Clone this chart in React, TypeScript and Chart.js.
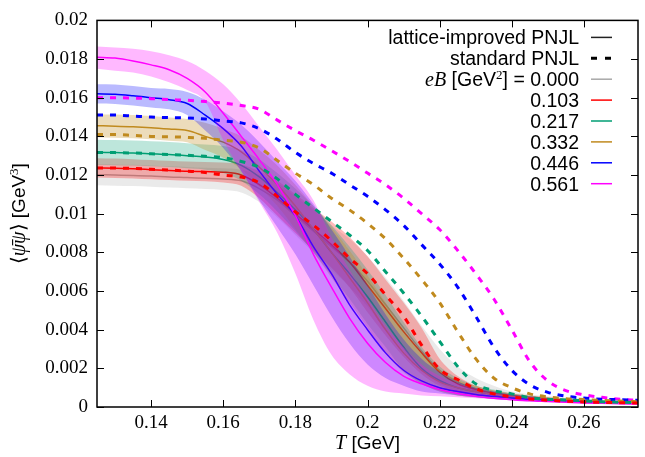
import React, { useEffect, useRef } from "react";
import { Chart, registerables } from "chart.js";
Chart.register(...registerables);

// Temperature grid [GeV]
const T = [0.125, 0.13, 0.135, 0.14, 0.145, 0.15, 0.155, 0.16, 0.165, 0.17, 0.175, 0.18, 0.185, 0.19, 0.195, 0.2, 0.205, 0.21, 0.215, 0.22, 0.225, 0.23, 0.235, 0.24, 0.245, 0.25, 0.255, 0.26, 0.265, 0.27, 0.275];

// eB values [GeV^2]
const eBLabels = ["0.000", "0.103", "0.217", "0.332", "0.446", "0.561"];

// lattice-improved PNJL (solid) with uncertainty bands
const lat000 = [0.01202, 0.012, 0.01198, 0.01195, 0.0119, 0.01187, 0.01183, 0.0118, 0.0117, 0.0113, 0.0107, 0.0099, 0.0091, 0.0083, 0.0075, 0.0065, 0.0053, 0.0041, 0.0029, 0.0019, 0.0013, 0.00095, 0.00075, 0.0006, 0.0005, 0.00042, 0.00036, 0.00032, 0.00028, 0.00025, 0.00023];
const lat000Hi = [0.01257, 0.01255, 0.01253, 0.0125, 0.01245, 0.01242, 0.01238, 0.01235, 0.01228, 0.012, 0.0116, 0.0109, 0.0102, 0.0094, 0.0087, 0.0078, 0.0067, 0.0055, 0.0042, 0.003, 0.0021, 0.0015, 0.0011, 0.0008, 0.00065, 0.00055, 0.00047, 0.0004, 0.00035, 0.00031, 0.00028];
const lat000Lo = [0.01147, 0.01145, 0.01143, 0.0114, 0.01135, 0.01132, 0.01128, 0.01123, 0.0111, 0.0106, 0.0098, 0.0089, 0.008, 0.0071, 0.0062, 0.0052, 0.004, 0.0029, 0.0019, 0.0012, 0.0008, 0.0006, 0.0005, 0.00042, 0.00036, 0.0003, 0.00026, 0.00023, 0.0002, 0.00018, 0.00017];

const lat103 = [0.01237, 0.01235, 0.01232, 0.01228, 0.01224, 0.0122, 0.01218, 0.01215, 0.012, 0.0115, 0.0108, 0.01, 0.0092, 0.0084, 0.0075, 0.0063, 0.0051, 0.0039, 0.0028, 0.0018, 0.0012, 0.0009, 0.0007, 0.00058, 0.00048, 0.0004, 0.00034, 0.0003, 0.00026, 0.00023, 0.00021];
const lat103Hi = [0.01287, 0.01285, 0.01282, 0.01278, 0.01274, 0.0127, 0.01268, 0.01265, 0.01255, 0.0122, 0.0117, 0.011, 0.0103, 0.0096, 0.0088, 0.0078, 0.0066, 0.0054, 0.0041, 0.0025, 0.0016, 0.0011, 0.00085, 0.0007, 0.0006, 0.0005, 0.00042, 0.00036, 0.00031, 0.00028, 0.00025];
const lat103Lo = [0.01187, 0.01185, 0.01182, 0.01178, 0.01174, 0.0117, 0.01168, 0.01162, 0.01145, 0.0108, 0.0099, 0.009, 0.0081, 0.0072, 0.0062, 0.0049, 0.0037, 0.0026, 0.0017, 0.0011, 0.00075, 0.0006, 0.0005, 0.00042, 0.00036, 0.0003, 0.00026, 0.00023, 0.0002, 0.00018, 0.00017];

const lat217 = [0.01318, 0.01316, 0.01314, 0.0131, 0.01306, 0.013, 0.01293, 0.0128, 0.0125, 0.0119, 0.0111, 0.0102, 0.0092, 0.008, 0.0069, 0.0057, 0.0044, 0.0031, 0.002, 0.00137, 0.001, 0.0008, 0.00065, 0.00052, 0.00043, 0.00037, 0.00032, 0.00028, 0.00025, 0.00022, 0.0002];
const lat217Hi = [0.01383, 0.01381, 0.01379, 0.01375, 0.01371, 0.01365, 0.01358, 0.0135, 0.0133, 0.0128, 0.0121, 0.0113, 0.0104, 0.0094, 0.0083, 0.0071, 0.0058, 0.0044, 0.0031, 0.0021, 0.0015, 0.0011, 0.0009, 0.0007, 0.00057, 0.00048, 0.00041, 0.00036, 0.00032, 0.00028, 0.00025];
const lat217Lo = [0.01253, 0.01251, 0.01249, 0.01245, 0.01241, 0.01235, 0.01228, 0.0121, 0.0117, 0.011, 0.0101, 0.0091, 0.008, 0.0068, 0.0056, 0.0043, 0.0031, 0.0019, 0.0012, 0.0008, 0.0006, 0.0005, 0.00042, 0.00035, 0.0003, 0.00026, 0.00023, 0.0002, 0.00018, 0.00016, 0.00015];

const lat332 = [0.01455, 0.01453, 0.0145, 0.01445, 0.01438, 0.0143, 0.014, 0.0137, 0.0132, 0.0124, 0.0115, 0.0104, 0.0092, 0.008, 0.0067, 0.0054, 0.004, 0.0028, 0.0019, 0.0013, 0.001, 0.0008, 0.00065, 0.00055, 0.00046, 0.0004, 0.00035, 0.0003, 0.00027, 0.00024, 0.00022];
const lat332Hi = [0.01515, 0.01513, 0.0151, 0.01505, 0.01498, 0.0149, 0.0147, 0.0144, 0.014, 0.0133, 0.0125, 0.0115, 0.0104, 0.0093, 0.0081, 0.0068, 0.0054, 0.004, 0.0028, 0.0019, 0.0014, 0.0011, 0.00085, 0.0007, 0.00058, 0.0005, 0.00043, 0.00037, 0.00033, 0.0003, 0.00027];
const lat332Lo = [0.01395, 0.01393, 0.0139, 0.01385, 0.01378, 0.0137, 0.0133, 0.0129, 0.0123, 0.0114, 0.0104, 0.0092, 0.008, 0.0067, 0.0054, 0.0041, 0.0028, 0.0018, 0.0012, 0.0008, 0.0006, 0.0005, 0.00043, 0.00037, 0.00032, 0.00028, 0.00025, 0.00022, 0.0002, 0.00018, 0.00016];

const lat446 = [0.0162, 0.01618, 0.0161, 0.016, 0.0159, 0.0157, 0.0151, 0.0144, 0.0135, 0.0122, 0.011, 0.0099, 0.0083, 0.0069, 0.0053, 0.004, 0.0028, 0.0019, 0.00135, 0.001, 0.0008, 0.00065, 0.00055, 0.00047, 0.0004, 0.00035, 0.00031, 0.00028, 0.00025, 0.00023, 0.00021];
const lat446Hi = [0.0167, 0.01668, 0.0166, 0.0165, 0.01645, 0.0163, 0.0159, 0.0153, 0.0146, 0.0137, 0.0127, 0.0117, 0.0105, 0.0092, 0.0078, 0.0063, 0.0048, 0.0035, 0.0025, 0.0018, 0.0013, 0.001, 0.0008, 0.00065, 0.00055, 0.00047, 0.0004, 0.00035, 0.00031, 0.00028, 0.00025];
const lat446Lo = [0.0157, 0.01568, 0.0156, 0.0155, 0.0154, 0.0151, 0.0143, 0.0134, 0.0122, 0.0107, 0.0093, 0.0079, 0.0063, 0.0047, 0.0033, 0.0022, 0.0015, 0.0011, 0.0008, 0.0007, 0.0006, 0.0005, 0.00042, 0.00036, 0.00031, 0.00027, 0.00024, 0.00021, 0.00019, 0.00017, 0.00016];

const lat561 = [0.0181, 0.01805, 0.0179, 0.0177, 0.01745, 0.017, 0.0163, 0.0152, 0.014, 0.0128, 0.0115, 0.0099, 0.0079, 0.0062, 0.0046, 0.0033, 0.0023, 0.0016, 0.0012, 0.0009, 0.0007, 0.00055, 0.00045, 0.00038, 0.00032, 0.00028, 0.00024, 0.00021, 0.00019, 0.00017, 0.00015];
const lat561Hi = [0.01865, 0.0186, 0.01853, 0.0184, 0.0182, 0.0179, 0.0174, 0.0167, 0.0157, 0.0145, 0.0133, 0.012, 0.0107, 0.0088, 0.0071, 0.0056, 0.0042, 0.0031, 0.0022, 0.0016, 0.0012, 0.0009, 0.0007, 0.0006, 0.0005, 0.00043, 0.00037, 0.00032, 0.00028, 0.00025, 0.00022];
const lat561Lo = [0.0175, 0.0174, 0.0173, 0.0171, 0.0168, 0.0164, 0.0158, 0.0138, 0.0122, 0.0106, 0.009, 0.0069, 0.0045, 0.0027, 0.0017, 0.0011, 0.0008, 0.0007, 0.0006, 0.00055, 0.0005, 0.00045, 0.0004, 0.00035, 0.0003, 0.00026, 0.00023, 0.0002, 0.00018, 0.00016, 0.00014];

// standard PNJL (dashed)
const std103 = [0.01237, 0.01236, 0.01234, 0.0123, 0.01226, 0.0122, 0.01213, 0.012, 0.0119, 0.0116, 0.0109, 0.0101, 0.0094, 0.0086, 0.0077, 0.0069, 0.0058, 0.0047, 0.0032, 0.00195, 0.00142, 0.00095, 0.00068, 0.00052, 0.00042, 0.00035, 0.0003, 0.00026, 0.00024, 0.00022, 0.00021];
const std217 = [0.01317, 0.01316, 0.01314, 0.0131, 0.01306, 0.01302, 0.01297, 0.0129, 0.0127, 0.0124, 0.0118, 0.011, 0.0103, 0.0096, 0.0089, 0.0081, 0.007, 0.0059, 0.0047, 0.0034, 0.0021, 0.0012, 0.00085, 0.00068, 0.00048, 0.0004, 0.00036, 0.00032, 0.00027, 0.00025, 0.00023];
const std332 = [0.0141, 0.0141, 0.01405, 0.014, 0.01398, 0.01395, 0.0139, 0.0138, 0.0137, 0.0134, 0.01275, 0.0121, 0.0115, 0.0108, 0.0102, 0.0095, 0.0087, 0.0077, 0.0066, 0.0054, 0.0039, 0.0025, 0.0015, 0.001, 0.00068, 0.00052, 0.00043, 0.00039, 0.00034, 0.00031, 0.00027];
const std446 = [0.0151, 0.0151, 0.01505, 0.015, 0.01497, 0.01495, 0.0149, 0.0148, 0.0147, 0.0144, 0.01385, 0.01317, 0.0126, 0.0121, 0.0115, 0.0109, 0.0102, 0.0094, 0.0084, 0.0074, 0.0062, 0.0047, 0.0031, 0.0019, 0.00115, 0.00076, 0.00056, 0.00046, 0.0004, 0.00038, 0.00035];
const std561 = [0.016, 0.016, 0.01598, 0.01595, 0.0159, 0.01587, 0.0158, 0.01572, 0.0156, 0.0154, 0.01484, 0.0143, 0.0138, 0.01326, 0.0127, 0.0121, 0.0115, 0.0108, 0.01, 0.00918, 0.0081, 0.0069, 0.0056, 0.004, 0.00235, 0.00135, 0.00085, 0.00063, 0.0005, 0.0004, 0.00035];

// axis ticks
const xTickValues = [0.14, 0.16, 0.18, 0.2, 0.22, 0.24, 0.26];
const xTickLabels = ["0.14", "0.16", "0.18", "0.2", "0.22", "0.24", "0.26"];
const yTickValues = [0, 0.002, 0.004, 0.006, 0.008, 0.01, 0.012, 0.014, 0.016, 0.018, 0.02];
const yTickLabels = ["0", "0.002", "0.004", "0.006", "0.008", "0.01", "0.012", "0.014", "0.016", "0.018", "0.02"];

const lineColors = ["#a8a8a8", "#ff0000", "#009e73", "#c08a1e", "#0000ff", "#ff00ff"];
const bandColors = [
  "rgba(150,150,150,0.2)",
  "rgba(255,0,0,0.27)",
  "rgba(0,158,115,0.26)",
  "rgba(192,138,30,0.3)",
  "rgba(0,0,255,0.27)",
  "rgba(255,0,255,0.28)",
];

const latSeries = [lat000, lat103, lat217, lat332, lat446, lat561];
const latHi = [lat000Hi, lat103Hi, lat217Hi, lat332Hi, lat446Hi, lat561Hi];
const latLo = [lat000Lo, lat103Lo, lat217Lo, lat332Lo, lat446Lo, lat561Lo];
const stdSeries = [null, std103, std217, std332, std446, std561];

const SANS = '"Liberation Sans", Arial, sans-serif';
const SERIF = '"Liberation Serif", "Times New Roman", serif';

function pts(arr: number[]) {
  return T.map((t, i) => ({ x: t, y: arr[i] }));
}

function drawParts(ctx: CanvasRenderingContext2D, parts: { t: string; f: string; dy?: number }[], xStart: number, baseline: number) {
  let x = xStart;
  for (const p of parts) {
    ctx.font = p.f;
    ctx.fillText(p.t, x, baseline + (p.dy || 0));
    x += ctx.measureText(p.t).width;
  }
}
function measureParts(ctx: CanvasRenderingContext2D, parts: { t: string; f: string }[]) {
  let w = 0;
  for (const p of parts) {
    ctx.font = p.f;
    w += ctx.measureText(p.t).width;
  }
  return w;
}

const framePlugin = {
  id: "frameAndLegend",
  afterDraw(chart: any) {
    const ctx: CanvasRenderingContext2D = chart.ctx;
    const { left, right, top, bottom } = chart.chartArea;
    const xs = chart.scales.x;
    const ys = chart.scales.y;
    ctx.save();
    // inward ticks
    ctx.strokeStyle = "#000";
    ctx.lineWidth = 1;
    const tl = 7;
    ctx.beginPath();
    for (const v of xTickValues) {
      const px = Math.round(xs.getPixelForValue(v)) + 0.5;
      ctx.moveTo(px, bottom);
      ctx.lineTo(px, bottom - tl);
      ctx.moveTo(px, top);
      ctx.lineTo(px, top + tl);
    }
    for (const v of yTickValues) {
      const py = Math.round(ys.getPixelForValue(v)) + 0.5;
      ctx.moveTo(left, py);
      ctx.lineTo(left + tl, py);
      ctx.moveTo(right, py);
      ctx.lineTo(right - tl, py);
    }
    ctx.stroke();
    // frame
    ctx.lineWidth = 1.5;
    ctx.strokeRect(left, top, right - left, bottom - top);

    // legend
    ctx.fillStyle = "#000";
    ctx.textBaseline = "alphabetic";
    const textRight = 579;
    const lx0 = 591;
    const lx1 = 612;
    const rowY = (i: number) => 37.4 + i * 20.9;
    const fs = 19.5;
    const sansF = `${fs}px ${SANS}`;
    const rows: { parts: { t: string; f: string; dy?: number }[]; color: string; dash: boolean; width: number }[] = [
      { parts: [{ t: "lattice-improved PNJL", f: sansF }], color: "#222", dash: false, width: 1.5 },
      { parts: [{ t: "standard PNJL", f: sansF }], color: "#000", dash: true, width: 3 },
      {
        parts: [
          { t: "eB", f: `italic 20px ${SERIF}` },
          { t: " [GeV", f: sansF },
          { t: "2", f: `13px ${SERIF}`, dy: -7 },
          { t: "] = 0.000", f: sansF },
        ],
        color: lineColors[0],
        dash: false,
        width: 1.5,
      },
    ];
    for (let i = 1; i < eBLabels.length; i++) {
      rows.push({ parts: [{ t: eBLabels[i], f: sansF }], color: lineColors[i], dash: false, width: 1.5 });
    }
    rows.forEach((r, i) => {
      const cy = rowY(i);
      const w = measureParts(ctx, r.parts);
      ctx.fillStyle = "#000";
      drawParts(ctx, r.parts, textRight - w, cy + 6.8);
      ctx.strokeStyle = r.color;
      ctx.lineWidth = r.width;
      ctx.setLineDash(r.dash ? [6, 8] : []);
      ctx.beginPath();
      ctx.moveTo(lx0, cy);
      ctx.lineTo(lx1, cy);
      ctx.stroke();
    });
    ctx.setLineDash([]);

    // x axis title
    const xParts = [
      { t: "T", f: `italic 20px ${SERIF}` },
      { t: " [GeV]", f: `19px ${SANS}` },
    ];
    const xw = measureParts(ctx, xParts);
    const xc = (left + right) / 2;
    ctx.fillStyle = "#000";
    drawParts(ctx, xParts, xc - xw / 2, 449);

    // y axis title (rotated)
    const yParts = [
      { t: "\u27E8", f: `20px ${SERIF}` },
      { t: "\u03C8\u0304\u03C8", f: `italic 20px ${SERIF}` },
      { t: "\u27E9", f: `20px ${SERIF}` },
      { t: " [GeV", f: `19px ${SANS}` },
      { t: "3", f: `13px ${SERIF}`, dy: -7 },
      { t: "]", f: `19px ${SANS}` },
    ];
    const yw = measureParts(ctx, yParts);
    ctx.translate(25, (top + bottom) / 2);
    ctx.rotate(-Math.PI / 2);
    drawParts(ctx, yParts, -yw / 2, 0);
    ctx.restore();
  },
};

export default function App() {
  const ref = useRef<HTMLCanvasElement>(null);
  useEffect(() => {
    const datasets: any[] = [];
    let ord = 200;
    for (let i = 0; i < latSeries.length; i++) {
      datasets.push({
        label: "band-hi-" + eBLabels[i],
        data: pts(latHi[i]),
        borderWidth: 0,
        borderColor: "rgba(0,0,0,0)",
        backgroundColor: bandColors[i],
        fill: "+1",
        pointRadius: 0,
        cubicInterpolationMode: "monotone",
        order: ord--,
      });
      datasets.push({
        label: "band-lo-" + eBLabels[i],
        data: pts(latLo[i]),
        borderWidth: 0,
        borderColor: "rgba(0,0,0,0)",
        fill: false,
        pointRadius: 0,
        cubicInterpolationMode: "monotone",
        order: ord--,
      });
      datasets.push({
        label: "lat-" + eBLabels[i],
        data: pts(latSeries[i]),
        borderWidth: 1.5,
        borderColor: lineColors[i],
        fill: false,
        pointRadius: 0,
        cubicInterpolationMode: "monotone",
        order: ord--,
      });
    }
    for (let i = latSeries.length - 1; i >= 1; i--) {
      datasets.push({
        label: "std-" + eBLabels[i],
        data: pts(stdSeries[i] as number[]),
        borderWidth: 3,
        borderColor: lineColors[i],
        borderDash: [6, 7],
        fill: false,
        pointRadius: 0,
        cubicInterpolationMode: "monotone",
        order: ord--,
      });
    }

    const chart = new Chart(ref.current as HTMLCanvasElement, {
      type: "line",
      data: { datasets },
      options: {
        animation: false,
        responsive: false,
        devicePixelRatio: 1,
        events: [],
        layout: { padding: { left: 0, top: 17, right: 7, bottom: 0 } },
        plugins: { legend: { display: false }, tooltip: { enabled: false } },
        elements: { line: { borderCapStyle: "butt" } },
        scales: {
          x: {
            type: "linear",
            min: 0.125,
            max: 0.275,
            afterBuildTicks: (scale: any) => {
              scale.ticks = xTickValues.map((v) => ({ value: v }));
            },
            afterFit: (scale: any) => {
              scale.height = 50;
            },
            grid: { display: false, drawTicks: false },
            border: { display: false },
            ticks: {
              autoSkip: false,
              maxRotation: 0,
              padding: 5,
              color: "#000",
              font: { family: SERIF, size: 19 },
              callback: (_v: any, i: number) => xTickLabels[i],
            },
          },
          y: {
            type: "linear",
            min: 0,
            max: 0.02,
            afterBuildTicks: (scale: any) => {
              scale.ticks = yTickValues.map((v) => ({ value: v }));
            },
            afterFit: (scale: any) => {
              scale.width = 97;
            },
            grid: { display: false, drawTicks: false },
            border: { display: false },
            ticks: {
              autoSkip: false,
              padding: 9,
              color: "#000",
              font: { family: SERIF, size: 19 },
              callback: (_v: any, i: number) => yTickLabels[i],
            },
          },
        },
      },
      plugins: [framePlugin],
    } as any);
    return () => chart.destroy();
  }, []);
  return (
    <div style={{ position: "fixed", left: 0, top: 0, width: 645, height: 457, background: "#fff" }}>
      <canvas ref={ref} width={645} height={457} style={{ display: "block", width: 645, height: 457 }} />
    </div>
  );
}
